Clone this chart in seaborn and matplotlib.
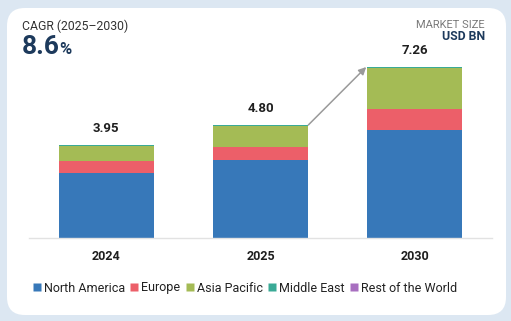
import matplotlib
matplotlib.use("Agg")
import matplotlib.pyplot as plt
from matplotlib.patches import FancyBboxPatch
from matplotlib.lines import Line2D
import seaborn as sns
import numpy as np
import pandas as pd

years = ["2024", "2025", "2030"]
totals = [3.95, 4.80, 7.26]
regions = ["North America", "Europe", "Asia Pacific", "Middle East", "Rest of the World"]
north_america = [2.75, 3.30, 4.60]
europe = [0.50, 0.55, 0.89]
asia_pacific = [0.64, 0.89, 1.71]
middle_east = [0.04, 0.04, 0.04]
rest_of_world = [0.02, 0.02, 0.02]
colors = ["#3778b9", "#ec5f69", "#a4bb55", "#3aaa96", "#a86fc0"]

sns.set_theme(style="white")
plt.rcParams["font.family"] = ["Roboto", "DejaVu Sans"]

fig = plt.figure(figsize=(5.11, 3.21), dpi=100)
fig.patch.set_facecolor("#dce7f2")
W, H = 511, 321
card = FancyBboxPatch((7 / W, 6 / H), 499 / W, 307 / H,
                      boxstyle="round,pad=0,rounding_size=0.035",
                      transform=fig.transFigure, facecolor="white",
                      edgecolor="none", mutation_aspect=W / H, zorder=-5)
fig.patches.append(card)

ax = fig.add_axes([29 / W, 83 / H, 463 / W, 188.4 / H])
ax.set_zorder(2)
ax.set_facecolor("none")

series = [north_america, europe, asia_pacific, middle_east, rest_of_world]
bottom = np.zeros(len(years))
for name, vals, col in zip(regions, series, colors):
    df = pd.DataFrame({"year": years, "value": vals})
    sns.barplot(data=df, x="year", y="value", color=col, width=0.617,
                bottom=bottom, errorbar=None, ax=ax, saturation=1,
                linewidth=0, label=name)
    bottom = bottom + np.array(vals)

for i, t in enumerate(totals):
    ax.annotate(f"{t:.2f}", (i, t), xytext=(0, 7), textcoords="offset points",
                ha="center", va="bottom", fontsize=9.5, fontweight="bold",
                color="#1f1f1f")

ax.annotate("", xy=(2 - 0.315, totals[2]), xytext=(1 + 0.31, totals[1]),
            arrowprops=dict(arrowstyle="-|>", color="#9a9a9a", lw=1.1,
                            mutation_scale=11, shrinkA=0, shrinkB=0))

ax.set_xlim(-0.5, 2.5)
ax.set_ylim(0, 8)
ax.set_xlabel("")
ax.set_ylabel("")
ax.set_yticks([])
for s in ["top", "right", "left"]:
    ax.spines[s].set_visible(False)
ax.spines["bottom"].set_color("#e2e2e2")
ax.spines["bottom"].set_linewidth(1)
ax.tick_params(axis="x", length=0, pad=9, labelsize=9, colors="#1f1f1f")
for lab in ax.get_xticklabels():
    lab.set_fontweight("bold")
leg0 = ax.get_legend()
if leg0 is not None:
    leg0.remove()

handles = [Line2D([0], [0], marker="s", color="none", markerfacecolor=c,
                  markeredgecolor="none", markersize=5.5) for c in colors]
fig.legend(handles, regions, loc="center left", bbox_to_anchor=(22 / W, 1 - 288 / H),
           ncol=5, frameon=False, fontsize=9, handlelength=0.6,
           handletextpad=0.25, columnspacing=0.45, labelcolor="#222222")

fig.text(22 / W, 1 - 26 / H, "CAGR (2025\u20132030)", fontsize=8.8, color="#333333",
         va="center", ha="left")
t = fig.text(22 / W, 1 - 47 / H, "8.6", fontsize=19, fontweight="bold",
             color="#1d3a5c", va="center", ha="left")
fig.canvas.draw()
bb = t.get_window_extent()
fig.text((bb.x1 - 1) / W, 1 - 49 / H, "%", fontsize=12, fontweight="bold",
         color="#1d3a5c", va="center", ha="left")

fig.text(485 / W, 1 - 25 / H, "MARKET SIZE", fontsize=8, color="#7a7a7a",
         va="center", ha="right")
fig.text(485 / W, 1 - 37 / H, "USD BN", fontsize=8.8, fontweight="bold",
         color="#1d3a5c", va="center", ha="right")

fig.savefig("out.png", dpi=100, facecolor=fig.get_facecolor())
